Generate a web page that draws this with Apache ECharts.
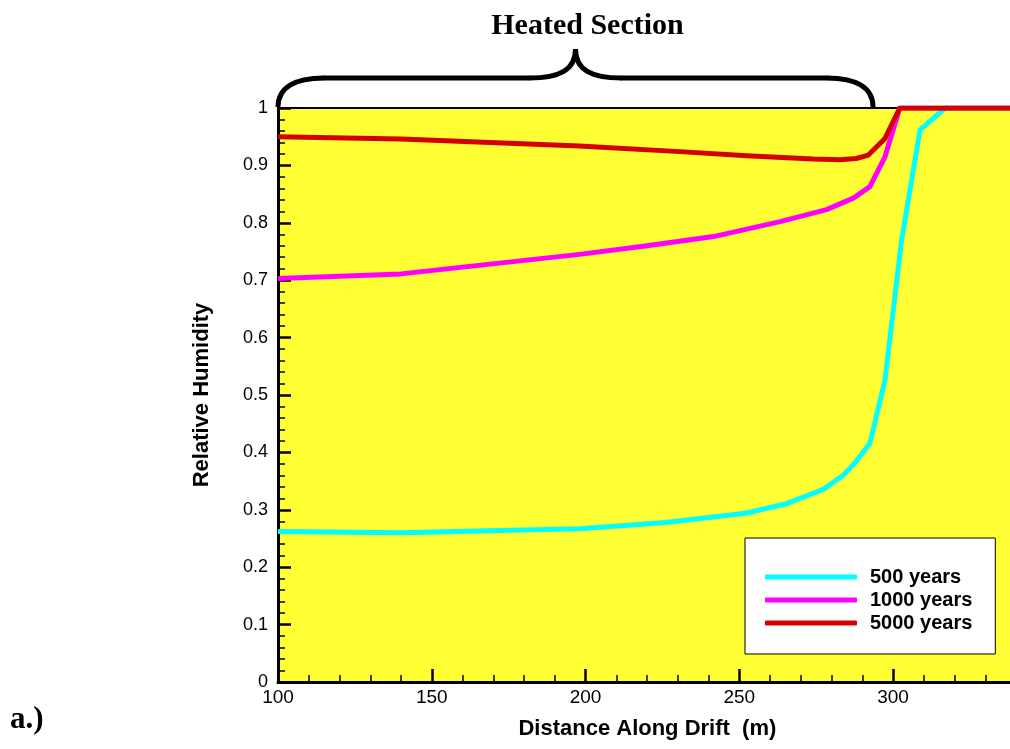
<!DOCTYPE html>
<html>
<head>
<meta charset="utf-8">
<script src="https://cdn.jsdelivr.net/npm/echarts@6/dist/echarts.min.js"></script>
<style>
  html, body { margin: 0; padding: 0; background: #fff; }
  #chart { width: 1010px; height: 749px; }
</style>
</head>
<body>
<div id="chart"></div>
<script>
// Relative humidity along the drift
const dist500 = [100, 140, 198, 226, 252, 265, 277.5, 284, 288, 292.5, 297.4, 302.8, 308.8, 317, 340];
const rh500 = [0.262, 0.260, 0.267, 0.278, 0.294, 0.310, 0.336, 0.361, 0.384, 0.416, 0.526, 0.770, 0.962, 1.0, 1.0];

const dist1000 = [100, 140, 198, 220, 241.6, 263.3, 278.4, 287.1, 292.5, 297.4, 302.2, 340];
const rh1000 = [0.703, 0.711, 0.745, 0.760, 0.776, 0.802, 0.823, 0.843, 0.863, 0.915, 1.0, 1.0];

const dist5000 = [100, 140, 198, 230.7, 252.4, 274, 282.8, 288, 292, 297.4, 302.2, 340];
const rh5000 = [0.950, 0.946, 0.934, 0.924, 0.917, 0.911, 0.910, 0.912, 0.918, 0.947, 1.0, 1.0];

const seriesNames = ['500 years', '1000 years', '5000 years'];
const seriesColors = ['#00FFFF', '#FF00FF', '#D40000'];

// heated section brace spans this part of the drift
const heatedStart = 100;
const heatedEnd = 293.5;

const pairs = (xs, ys) => xs.map((x, i) => [x, ys[i]]);
const allData = [pairs(dist500, rh500), pairs(dist1000, rh1000), pairs(dist5000, rh5000)];

const chart = echarts.init(document.getElementById('chart'), null, { renderer: 'canvas' });

const option = {
  animation: false,
  backgroundColor: '#fff',
  grid: {
    left: 278,
    top: 108,
    bottom: 67,
    right: -36.75,
    outerBoundsMode: 'none',
    containLabel: false,
    show: true,
    backgroundColor: '#FFFF33',
    borderColor: '#000',
    borderWidth: 2
  },
  legend: {
    data: seriesNames,
    orient: 'vertical',
    left: 745,
    top: 538,
    icon: 'roundRect',
    itemWidth: 92,
    itemHeight: 5,
    itemGap: 3,
    padding: [29, 23, 21, 20],
    backgroundColor: '#fff',
    borderColor: '#000',
    borderWidth: 1,
    textStyle: {
      fontFamily: 'Liberation Sans, Arial',
      fontWeight: 'bold',
      fontSize: 20,
      lineHeight: 18,
      color: '#000',
      padding: [0, 0, 0, 8]
    }
  },
  xAxis: {
    type: 'value',
    min: 100,
    max: 350,
    interval: 50,
    name: 'Distance Along Drift  (m)',
    nameLocation: 'middle',
    nameGap: 36,
    nameTextStyle: {
      fontFamily: 'Liberation Sans, Arial',
      fontWeight: 'bold',
      fontSize: 22,
      color: '#000',
      padding: [0, 30, 0, 0]
    },
    axisLine: { lineStyle: { color: '#000', width: 3 } },
    axisTick: { inside: true, length: 13, lineStyle: { color: '#000', width: 2.5 } },
    minorTick: { show: true, splitNumber: 5, length: 7, lineStyle: { color: '#000', width: 1.5 } },
    splitLine: { show: false },
    axisLabel: {
      margin: 6,
      fontFamily: 'Liberation Sans, Arial',
      fontSize: 19,
      color: '#000'
    }
  },
  yAxis: {
    type: 'value',
    min: 0,
    max: 1,
    interval: 0.1,
    name: 'Relative Humidity',
    nameLocation: 'middle',
    nameGap: 65,
    nameTextStyle: {
      fontFamily: 'Liberation Sans, Arial',
      fontWeight: 'bold',
      fontSize: 22,
      color: '#000'
    },
    axisLine: { lineStyle: { color: '#000', width: 3 } },
    axisTick: { inside: true, length: 13, lineStyle: { color: '#000', width: 2.5 } },
    minorTick: { show: true, splitNumber: 5, length: 7, lineStyle: { color: '#000', width: 1.5 } },
    splitLine: { show: false },
    axisLabel: {
      margin: 10,
      fontFamily: 'Liberation Sans, Arial',
      fontSize: 18,
      color: '#000'
    }
  },
  series: seriesNames.map((name, i) => ({
    name: name,
    type: 'line',
    data: allData[i],
    symbol: 'none',
    lineStyle: { color: seriesColors[i], width: 5, join: 'round' },
    itemStyle: { color: seriesColors[i] }
  }))
};

chart.setOption(option);

// brace over the heated section
const pL = chart.convertToPixel({ gridIndex: 0 }, [heatedStart, 1]);
const pR = chart.convertToPixel({ gridIndex: 0 }, [heatedEnd, 1]);
const l = pL[0], r = pR[0], b = pL[1] - 1;
const m = (l + r) / 2;
const h = b - 29;
const p = b - 58;

const braceStyle = { stroke: '#000', lineWidth: 5, fill: null, lineCap: 'butt' };
const curve = (x1, y1, c1x, c1y, c2x, c2y, x2, y2) => ({
  type: 'bezierCurve',
  shape: { x1: x1, y1: y1, cpx1: c1x, cpy1: c1y, cpx2: c2x, cpy2: c2y, x2: x2, y2: y2 },
  style: braceStyle,
  z: 100
});
const seg = (x1, y1, x2, y2) => ({
  type: 'line',
  shape: { x1: x1, y1: y1, x2: x2, y2: y2 },
  style: braceStyle,
  z: 100
});

chart.setOption({
  graphic: [
    curve(l, b, l, h + 10, l + 16, h, l + 46, h),
    seg(l + 45, h, m - 45, h),
    curve(m - 46, h, m - 16, h, m, h - 8, m, p),
    curve(m, p, m, h - 8, m + 16, h, m + 46, h),
    seg(m + 45, h, r - 45, h),
    curve(r - 46, h, r - 16, h, r, h + 10, r, b),
    {
      type: 'text',
      x: m + 12,
      y: 26,
      style: {
        text: 'Heated Section',
        fontFamily: 'Liberation Serif, Times New Roman',
        fontWeight: 'bold',
        fontSize: 30,
        fill: '#000',
        align: 'center',
        verticalAlign: 'middle'
      },
      z: 100
    },
    {
      type: 'text',
      x: 10,
      y: 720,
      style: {
        text: 'a.)',
        fontFamily: 'Liberation Serif, Times New Roman',
        fontWeight: 'bold',
        fontSize: 31,
        fill: '#000',
        align: 'left',
        verticalAlign: 'middle'
      },
      z: 100
    }
  ]
});
</script>
</body>
</html>
